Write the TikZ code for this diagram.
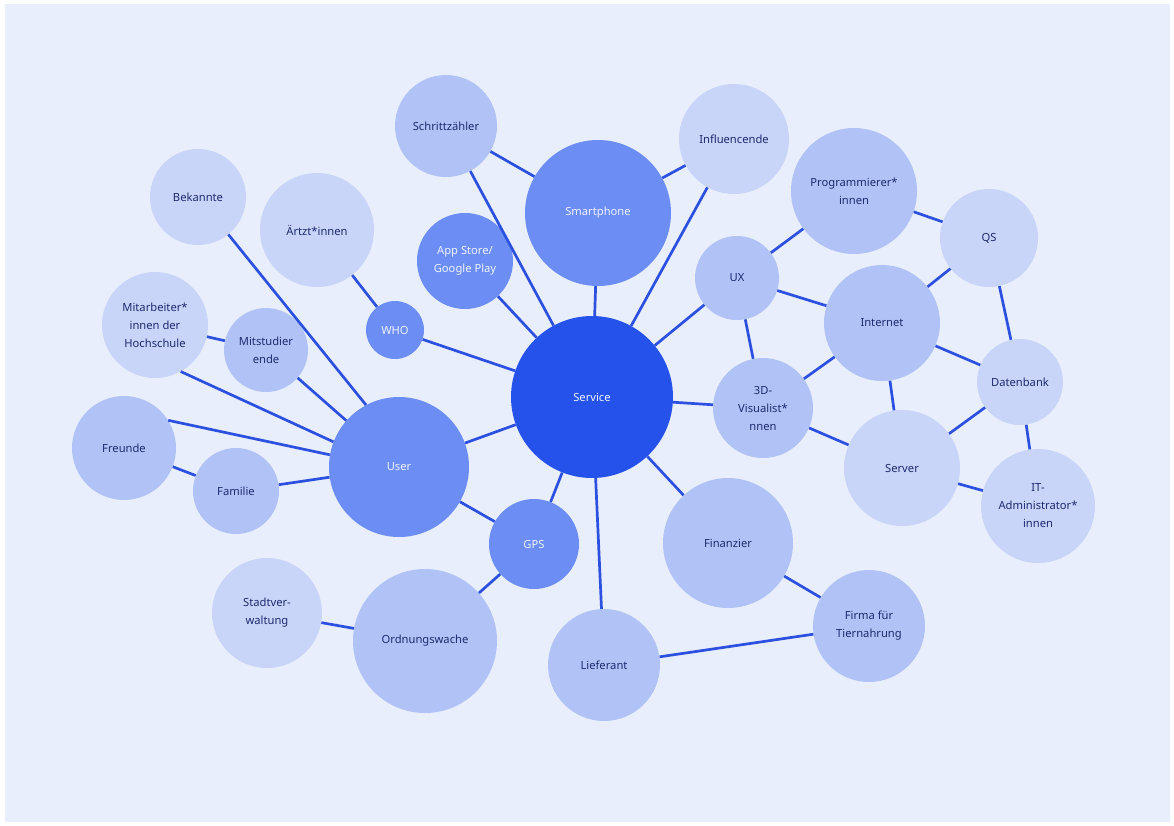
\documentclass[tikz,border=0pt]{standalone}
\usepackage{fontspec}
\setmainfont{Noto Sans}
\definecolor{bgc}{HTML}{E8EEFB}
\definecolor{lightc}{HTML}{C8D4F8}
\definecolor{midc}{HTML}{B1C3F6}
\definecolor{strongc}{HTML}{6B8DF4}
\definecolor{servc}{HTML}{2552EA}
\definecolor{linec}{HTML}{2C50E0}
\definecolor{txtc}{HTML}{1E2B6F}
\definecolor{wtxt}{HTML}{EEF2FF}
\tikzset{
  bub/.style={circle, inner sep=0pt, minimum size=#1, align=center,
    font=\fontsize{11.2}{18}\selectfont, text=txtc},
  lightbub/.style={bub=#1, fill=lightc},
  midbub/.style={bub=#1, fill=midc},
  strongbub/.style={bub=#1, fill=strongc, text=wtxt},
  servbub/.style={bub=#1, fill=servc, text=wtxt},
  conn/.style={draw=linec, line width=2.7pt}
}
\begin{document}
\begin{tikzpicture}[x=1pt,y=-1pt]
\fill[white] (0,0) rectangle (1174,825);
\fill[bgc] (5,4) rectangle (1170,822);
\useasboundingbox (0,0) rectangle (1174,825);
% nodes
\node[servbub=162pt] (serv) at (592,397) {Service};
\node[strongbub=146pt] (smart) at (598,213) {Smartphone};
\node[strongbub=140pt] (user) at (399,467) {User};
\node[strongbub=96pt] (app) at (465,261) {App Store/\\Google Play};
\node[strongbub=58pt] (who) at (395,330) {WHO};
\node[strongbub=90pt] (gps) at (534,544) {GPS};
\node[midbub=102pt] (schritt) at (446,126) {Schrittzähler};
\node[lightbub=110pt] (infl) at (734,139) {Influencende};
\node[lightbub=114pt] (arzt) at (317,230) {Ärtzt*innen};
\node[lightbub=96pt] (bek) at (198,197) {Bekannte};
\node[lightbub=106pt] (mitarb) at (155,325) {Mitarbeiter*\\innen der\\Hochschule};
\node[midbub=84pt] (mitstud) at (266,350) {Mitstudier\\ende};
\node[midbub=104pt] (freunde) at (124,448) {Freunde};
\node[midbub=86pt] (fam) at (236,491) {Familie};
\node[lightbub=110pt] (stadt) at (267,613) {Stadtver-\\waltung};
\node[midbub=144pt] (ordn) at (425,641) {Ordnungswache};
\node[midbub=112pt] (lief) at (604,665) {Lieferant};
\node[midbub=130pt] (fin) at (728,543) {Finanzier};
\node[midbub=112pt] (firma) at (869,626) {Firma für\\Tiernahrung};
\node[midbub=84pt] (ux) at (737,278) {UX};
\node[midbub=126pt] (prog) at (854,191) {Programmierer*\\innen};
\node[lightbub=98pt] (qs) at (989,238) {QS};
\node[midbub=116pt] (inet) at (882,323) {Internet};
\node[midbub=100pt] (vis) at (763,408) {3D-\\Visualist*\\nnen};
\node[lightbub=116pt] (server) at (902,468) {Server};
\node[lightbub=86pt] (db) at (1020,382) {Datenbank};
\node[lightbub=114pt] (itadm) at (1038,506) {IT-\\Administrator*\\innen};
% connectors
\foreach \a/\b in {serv/smart, serv/schritt, serv/infl, serv/app, serv/who,
  serv/ux, serv/vis, serv/user, serv/gps, serv/lief, serv/fin,
  smart/schritt, smart/infl, who/arzt, user/mitstud,
  user/fam, user/gps, mitarb/mitstud, freunde/fam, gps/ordn,
  ordn/stadt, lief/firma, fin/firma, ux/prog, ux/inet, ux/vis, prog/qs,
  inet/qs, inet/vis, inet/db, inet/server, qs/db, vis/server, server/db,
  server/itadm, db/itadm}
  \draw[conn] (\a) -- (\b);
\draw[conn] (bek.-51) -- (user.118);
\draw[conn] (mitarb.-61) -- (user.159);
\draw[conn] (freunde.32) -- (user.170);
\end{tikzpicture}
\end{document}
